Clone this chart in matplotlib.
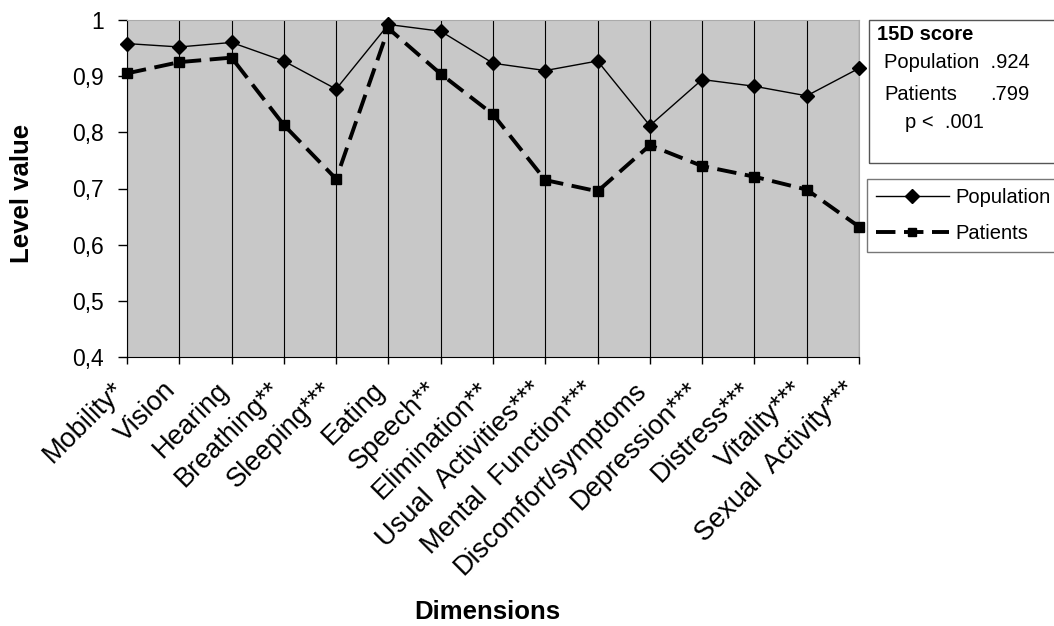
import matplotlib
matplotlib.use("Agg")
import matplotlib.pyplot as plt
import matplotlib.transforms as mtransforms
from matplotlib.lines import Line2D
from matplotlib.patches import Rectangle
from matplotlib.ticker import FuncFormatter

plt.rcParams["font.family"] = ["Liberation Sans", "DejaVu Sans"]

dimensions = ["Mobility*", "Vision", "Hearing", "Breathing**", "Sleeping***", "Eating",
              "Speech**", "Elimination**", "Usual  Activities***", "Mental  Function***",
              "Discomfort/symptoms", "Depression***", "Distress***", "Vitality***",
              "Sexual  Activity***"]
population = [0.958, 0.952, 0.960, 0.927, 0.877, 0.992, 0.980, 0.923, 0.910, 0.927,
              0.812, 0.894, 0.882, 0.865, 0.914]
patients = [0.905, 0.925, 0.933, 0.813, 0.717, 0.985, 0.904, 0.832, 0.715, 0.695,
             0.777, 0.740, 0.721, 0.698, 0.632]
y_ticks = [0.4, 0.5, 0.6, 0.7, 0.8, 0.9, 1.0]

W, H = 1054, 626
fig = plt.figure(figsize=(W / 100, H / 100), dpi=100)
ax = fig.add_axes([127 / W, 1 - 357 / H, (859 - 127) / W, (357 - 20) / H])
ax.set_facecolor("#c8c8c8")

x = list(range(len(dimensions)))
ax.plot(x, population, color="black", lw=1.0, marker="D", ms=7, mfc="black", mec="black",
        label="Population", clip_on=False, zorder=4)
ax.plot(x, patients, color="black", lw=2.8, dashes=(5, 2.2), marker="s", ms=7.5,
        label="Patients", clip_on=False, zorder=3)

ax.set_xlim(0, len(dimensions) - 1)
ax.set_ylim(0.4, 1.0)
ax.set_yticks(y_ticks)
ax.yaxis.set_major_formatter(FuncFormatter(
    lambda v, p: "1" if abs(v - 1) < 1e-9 else ("%.1f" % v).replace(".", ",")))
ax.set_xticks(x)
ax.set_xticklabels(dimensions, rotation=45, ha="right", va="center", rotation_mode="anchor")
ax.tick_params(axis="y", labelsize=16.5, length=6.5, width=1, direction="out", pad=10)
ax.tick_params(axis="x", labelsize=19.5, length=5, width=1, direction="out", pad=16)
shift = mtransforms.ScaledTranslation(-7 / 100, 0, fig.dpi_scale_trans)
for lab in ax.get_xticklabels():
    lab.set_transform(lab.get_transform() + shift)
ax.grid(axis="x", color="black", lw=0.8)
ax.set_axisbelow(True)
for s in ["top", "right"]:
    ax.spines[s].set_color("#aaaaaa")
for s in ["left", "bottom"]:
    ax.spines[s].set_color("black")

fig.text(22 / W, 1 - 193 / H, "Level value", rotation=90, ha="center", va="center",
         fontsize=18.5, fontweight="bold")
fig.text(487 / W, 1 - 612 / H, "Dimensions", ha="center", va="center",
         fontsize=18.5, fontweight="bold")

# 15D score box
fig.patches.append(Rectangle((869 / W, 1 - 163 / H), 200 / W, 143 / H,
                             transform=fig.transFigure, fill=False, ec="#555555", lw=1))
fig.text(877 / W, 1 - 34 / H, "15D score", fontsize=14.5, fontweight="bold", va="center")
fig.text(884 / W, 1 - 63 / H, "Population  .924", fontsize=14.5, va="center")
fig.text(884 / W, 1 - 95 / H, "Patients", fontsize=14.5, va="center")
fig.text(990 / W, 1 - 95 / H, ".799", fontsize=14.5, va="center")
fig.text(905 / W, 1 - 123 / H, "p <  .001", fontsize=14.5, va="center")

handles = [Line2D([], [], color="black", lw=1.0, marker="D", ms=7, label="Population"),
           Line2D([], [], color="black", lw=2.8, dashes=(5, 2.2), marker="s", ms=6,
                  label="Patients")]
leg = fig.legend(handles=handles, loc="upper left", bbox_to_anchor=(867 / W, 1 - 179 / H),
                 bbox_transform=fig.transFigure, fontsize=14.5, frameon=True, fancybox=False,
                 edgecolor="#555555", handlelength=3.6, handletextpad=0.35, borderpad=0.45,
                 borderaxespad=0, labelspacing=0.85)
leg.get_frame().set_linewidth(1)

fig.savefig("out.png", dpi=100)
